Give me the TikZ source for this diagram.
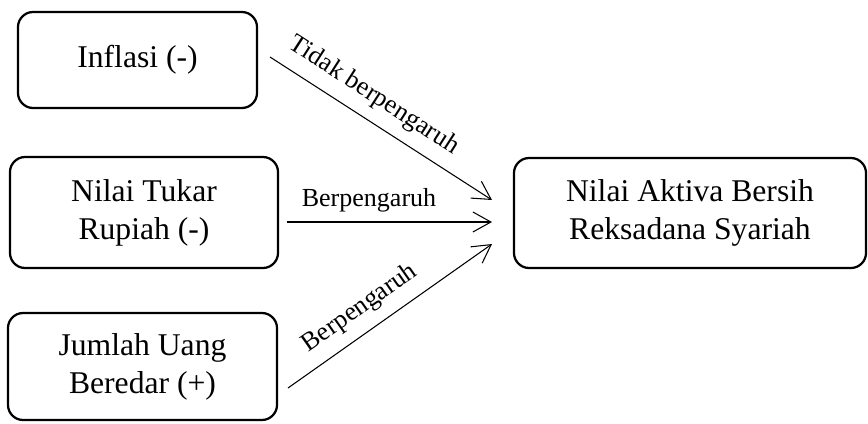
\documentclass[tikz,border=0pt]{standalone}
\usepackage{fontspec}
\setmainfont{Liberation Serif}
\usetikzlibrary{arrows.meta}

\begin{document}
\begin{tikzpicture}[x=0.025cm,y=-0.025cm,
	varbox/.style={draw,line width=1.6pt,rounded corners=0.38cm,align=center,inner sep=0pt,
		font=\fontsize{22.5}{27}\selectfont},
	effect/.style={line width=0.75pt,-{Straight Barb[length=0.45cm,width=0.5cm,line width=0.75pt]}},
	effectlabel/.style={font=\fontsize{18.5}{22}\selectfont,inner sep=2pt}]
					% Define the frame
					\useasboundingbox (0,0) rectangle (868,423);
					% Add the variable boxes
					\node[varbox,minimum width=5.975cm,minimum height=2.4cm] (inflasi) at (137.5,60) {Inflasi (-)};
					\node[varbox,minimum width=6.7cm,minimum height=2.775cm] (kurs) at (144,212.5) {Nilai Tukar\\Rupiah (-)};
					\node[varbox,minimum width=6.725cm,minimum height=2.675cm] (jub) at (142.5,366.5) {Jumlah Uang\\Beredar (+)};
					\node[varbox,minimum width=8.8cm,minimum height=2.75cm] (nab) at (690,213) {Nilai Aktiva Bersih\\Reksadana Syariah};
					% Arrow ends
					\coordinate (inflasiout) at (270,57);
					\coordinate (kursout) at (287,222);
					\coordinate (jubout) at (288,388);
					\coordinate (nabin1) at (492,200);
					\coordinate (nabin2) at (492,222);
					\coordinate (nabin3) at (492,244);
					% Create Arrows
					\draw[effect] (inflasiout) -- (nabin1) node[effectlabel,pos=0.41,sloped,above=6pt] {Tidak berpengaruh};
					\draw[effect] (kursout) -- (nabin2) node[effectlabel,pos=0.4,above=4.5pt] {Berpengaruh};
					\draw[effect] (jubout) -- (nabin3) node[effectlabel,pos=0.42,sloped,above=6pt] {Berpengaruh};
				\end{tikzpicture}
\end{document}
